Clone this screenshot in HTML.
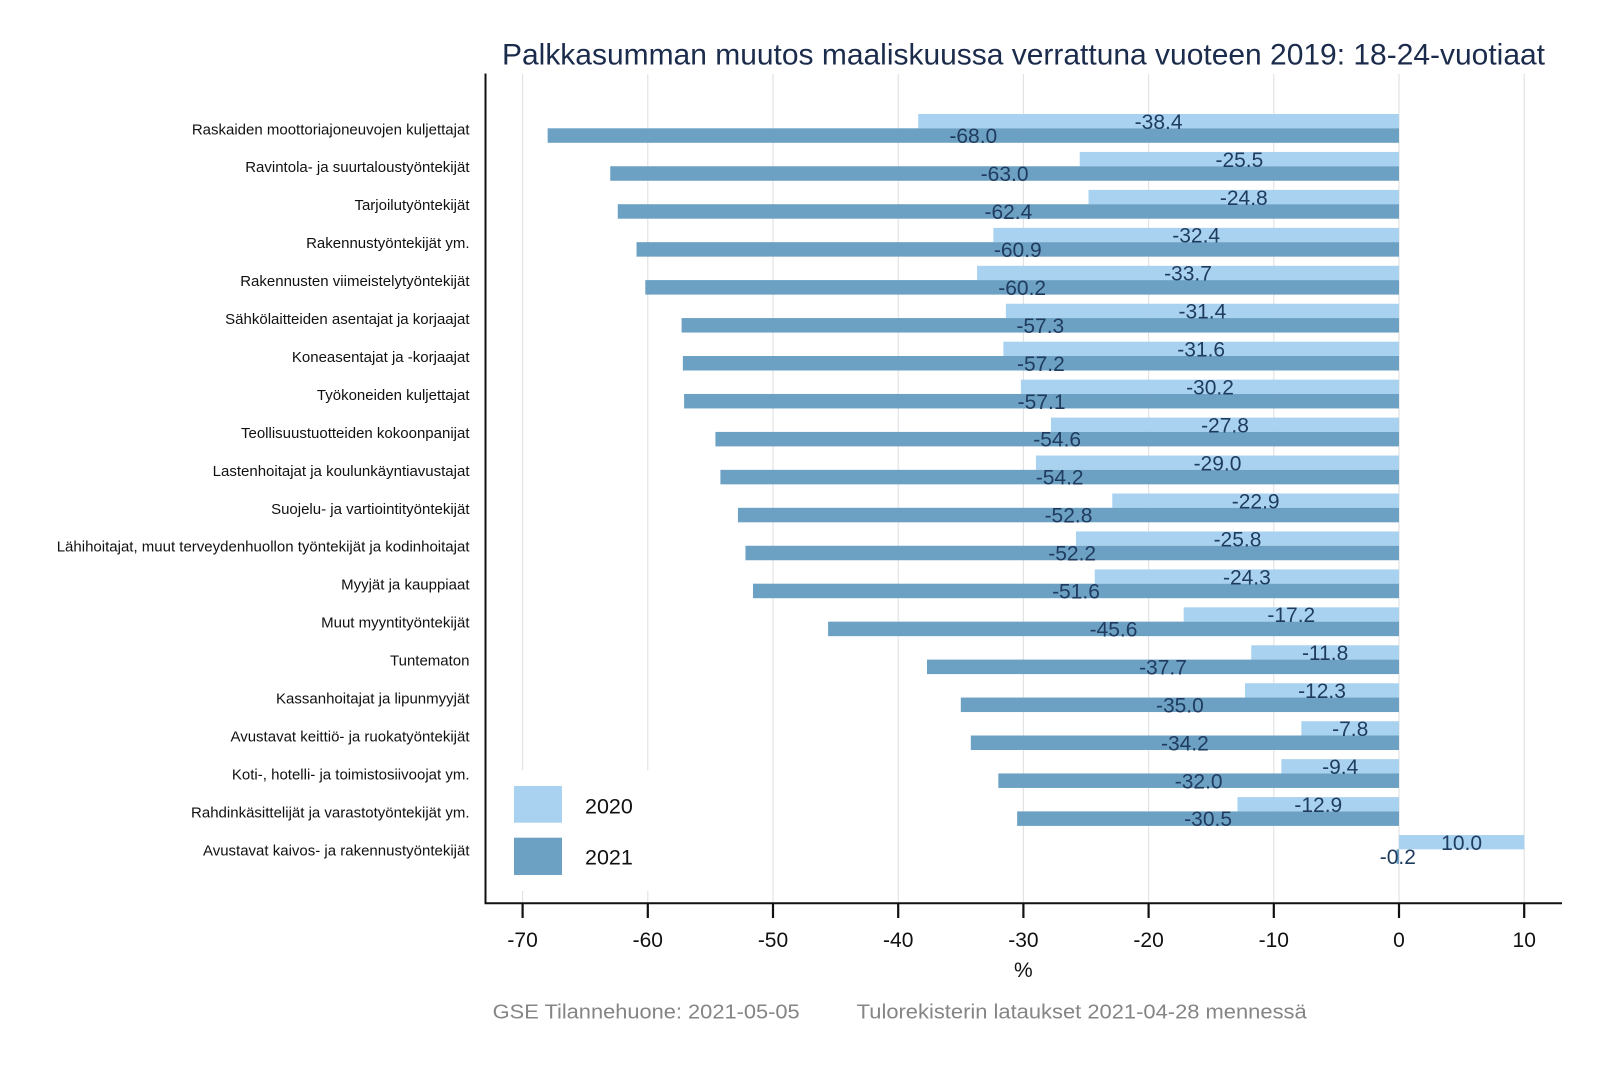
<!DOCTYPE html>
<html><head><meta charset="utf-8"><style>
html,body{margin:0;padding:0;background:#fff;}
svg{display:block;}
text{font-family:"Liberation Sans",Arial,sans-serif;}
.cat{font-size:15px;fill:#111;text-anchor:end;}
.val{font-size:21px;fill:#1f3b5e;text-anchor:middle;}
.tick{font-size:21px;fill:#111;text-anchor:middle;}
.l{fill:#a8d2f0;}
.d{fill:#6ca1c4;}
</style></head><body>
<svg width="1600" height="1067" viewBox="0 0 1600 1067" xmlns="http://www.w3.org/2000/svg">
<rect width="1600" height="1067" fill="#fff"/>
<text x="502" y="64.5" font-size="30" fill="#1b2b4b" textLength="1043" lengthAdjust="spacingAndGlyphs">Palkkasumman muutos maaliskuussa verrattuna vuoteen 2019: 18-24-vuotiaat</text>
<g stroke="#e3e3e3" stroke-width="1.2">
<line x1="522.6" y1="74" x2="522.6" y2="903"/>
<line x1="647.8" y1="74" x2="647.8" y2="903"/>
<line x1="773" y1="74" x2="773" y2="903"/>
<line x1="898.2" y1="74" x2="898.2" y2="903"/>
<line x1="1023.4" y1="74" x2="1023.4" y2="903"/>
<line x1="1148.6" y1="74" x2="1148.6" y2="903"/>
<line x1="1273.8" y1="74" x2="1273.8" y2="903"/>
<line x1="1399" y1="74" x2="1399" y2="903"/>
<line x1="1524.2" y1="74" x2="1524.2" y2="903"/>
</g>
<rect x="487" y="770" width="210" height="121" fill="#fff"/>
<rect x="514" y="786" width="48" height="36.7" class="l"/>
<rect x="514" y="837.7" width="48" height="37.3" class="d"/>
<text x="585" y="813.3" font-size="21.5" fill="#111">2020</text>
<text x="585" y="864.3" font-size="21.5" fill="#111">2021</text>

<g transform="translate(0,114)"><rect class="l" x="918.23" y="0" width="480.77" height="14.3"/><rect class="d" x="547.64" y="14.3" width="851.36" height="14.5"/><text class="cat" x="469.5" y="20.3">Raskaiden moottoriajoneuvojen kuljettajat</text><text class="val" x="1158.6" y="14.85">-38.4</text><text class="val" x="973.3" y="29.15">-68.0</text></g>
<g transform="translate(0,151.95)"><rect class="l" x="1079.74" y="0" width="319.26" height="14.3"/><rect class="d" x="610.24" y="14.3" width="788.76" height="14.5"/><text class="cat" x="469.5" y="20.3">Ravintola- ja suurtaloustyöntekijät</text><text class="val" x="1239.4" y="14.85">-25.5</text><text class="val" x="1004.6" y="29.15">-63.0</text></g>
<g transform="translate(0,189.9)"><rect class="l" x="1088.5" y="0" width="310.5" height="14.3"/><rect class="d" x="617.75" y="14.3" width="781.25" height="14.5"/><text class="cat" x="469.5" y="20.3">Tarjoilutyöntekijät</text><text class="val" x="1243.8" y="14.85">-24.8</text><text class="val" x="1008.4" y="29.15">-62.4</text></g>
<g transform="translate(0,227.85)"><rect class="l" x="993.35" y="0" width="405.65" height="14.3"/><rect class="d" x="636.53" y="14.3" width="762.47" height="14.5"/><text class="cat" x="469.5" y="20.3">Rakennustyöntekijät ym.</text><text class="val" x="1196.2" y="14.85">-32.4</text><text class="val" x="1017.8" y="29.15">-60.9</text></g>
<g transform="translate(0,265.8)"><rect class="l" x="977.08" y="0" width="421.92" height="14.3"/><rect class="d" x="645.3" y="14.3" width="753.7" height="14.5"/><text class="cat" x="469.5" y="20.3">Rakennusten viimeistelytyöntekijät</text><text class="val" x="1188.0" y="14.85">-33.7</text><text class="val" x="1022.2" y="29.15">-60.2</text></g>
<g transform="translate(0,303.75)"><rect class="l" x="1005.87" y="0" width="393.13" height="14.3"/><rect class="d" x="681.6" y="14.3" width="717.4" height="14.5"/><text class="cat" x="469.5" y="20.3">Sähkölaitteiden asentajat ja korjaajat</text><text class="val" x="1202.4" y="14.85">-31.4</text><text class="val" x="1040.3" y="29.15">-57.3</text></g>
<g transform="translate(0,341.7)"><rect class="l" x="1003.37" y="0" width="395.63" height="14.3"/><rect class="d" x="682.86" y="14.3" width="716.14" height="14.5"/><text class="cat" x="469.5" y="20.3">Koneasentajat ja -korjaajat</text><text class="val" x="1201.2" y="14.85">-31.6</text><text class="val" x="1040.9" y="29.15">-57.2</text></g>
<g transform="translate(0,379.65)"><rect class="l" x="1020.9" y="0" width="378.1" height="14.3"/><rect class="d" x="684.11" y="14.3" width="714.89" height="14.5"/><text class="cat" x="469.5" y="20.3">Työkoneiden kuljettajat</text><text class="val" x="1210.0" y="14.85">-30.2</text><text class="val" x="1041.6" y="29.15">-57.1</text></g>
<g transform="translate(0,417.6)"><rect class="l" x="1050.94" y="0" width="348.06" height="14.3"/><rect class="d" x="715.41" y="14.3" width="683.59" height="14.5"/><text class="cat" x="469.5" y="20.3">Teollisuustuotteiden kokoonpanijat</text><text class="val" x="1225.0" y="14.85">-27.8</text><text class="val" x="1057.2" y="29.15">-54.6</text></g>
<g transform="translate(0,455.55)"><rect class="l" x="1035.92" y="0" width="363.08" height="14.3"/><rect class="d" x="720.42" y="14.3" width="678.58" height="14.5"/><text class="cat" x="469.5" y="20.3">Lastenhoitajat ja koulunkäyntiavustajat</text><text class="val" x="1217.5" y="14.85">-29.0</text><text class="val" x="1059.7" y="29.15">-54.2</text></g>
<g transform="translate(0,493.5)"><rect class="l" x="1112.29" y="0" width="286.71" height="14.3"/><rect class="d" x="737.94" y="14.3" width="661.06" height="14.5"/><text class="cat" x="469.5" y="20.3">Suojelu- ja vartiointityöntekijät</text><text class="val" x="1255.7" y="14.85">-22.9</text><text class="val" x="1068.5" y="29.15">-52.8</text></g>
<g transform="translate(0,531.45)"><rect class="l" x="1075.98" y="0" width="323.02" height="14.3"/><rect class="d" x="745.46" y="14.3" width="653.54" height="14.5"/><text class="cat" x="469.5" y="20.3">Lähihoitajat, muut terveydenhuollon työntekijät ja kodinhoitajat</text><text class="val" x="1237.5" y="14.85">-25.8</text><text class="val" x="1072.2" y="29.15">-52.2</text></g>
<g transform="translate(0,569.4)"><rect class="l" x="1094.76" y="0" width="304.24" height="14.3"/><rect class="d" x="752.97" y="14.3" width="646.03" height="14.5"/><text class="cat" x="469.5" y="20.3">Myyjät ja kauppiaat</text><text class="val" x="1246.9" y="14.85">-24.3</text><text class="val" x="1076.0" y="29.15">-51.6</text></g>
<g transform="translate(0,607.35)"><rect class="l" x="1183.66" y="0" width="215.34" height="14.3"/><rect class="d" x="828.09" y="14.3" width="570.91" height="14.5"/><text class="cat" x="469.5" y="20.3">Muut myyntityöntekijät</text><text class="val" x="1291.3" y="14.85">-17.2</text><text class="val" x="1113.5" y="29.15">-45.6</text></g>
<g transform="translate(0,645.3)"><rect class="l" x="1251.26" y="0" width="147.74" height="14.3"/><rect class="d" x="927" y="14.3" width="472" height="14.5"/><text class="cat" x="469.5" y="20.3">Tuntematon</text><text class="val" x="1325.1" y="14.85">-11.8</text><text class="val" x="1163.0" y="29.15">-37.7</text></g>
<g transform="translate(0,683.25)"><rect class="l" x="1245" y="0" width="154" height="14.3"/><rect class="d" x="960.8" y="14.3" width="438.2" height="14.5"/><text class="cat" x="469.5" y="20.3">Kassanhoitajat ja lipunmyyjät</text><text class="val" x="1322.0" y="14.85">-12.3</text><text class="val" x="1179.9" y="29.15">-35.0</text></g>
<g transform="translate(0,721.2)"><rect class="l" x="1301.34" y="0" width="97.66" height="14.3"/><rect class="d" x="970.82" y="14.3" width="428.18" height="14.5"/><text class="cat" x="469.5" y="20.3">Avustavat keittiö- ja ruokatyöntekijät</text><text class="val" x="1350.2" y="14.85">-7.8</text><text class="val" x="1184.9" y="29.15">-34.2</text></g>
<g transform="translate(0,759.15)"><rect class="l" x="1281.31" y="0" width="117.69" height="14.3"/><rect class="d" x="998.36" y="14.3" width="400.64" height="14.5"/><text class="cat" x="469.5" y="20.3">Koti-, hotelli- ja toimistosiivoojat ym.</text><text class="val" x="1340.2" y="14.85">-9.4</text><text class="val" x="1198.7" y="29.15">-32.0</text></g>
<g transform="translate(0,797.1)"><rect class="l" x="1237.49" y="0" width="161.51" height="14.3"/><rect class="d" x="1017.14" y="14.3" width="381.86" height="14.5"/><text class="cat" x="469.5" y="20.3">Rahdinkäsittelijät ja varastotyöntekijät ym.</text><text class="val" x="1318.3" y="14.85">-12.9</text><text class="val" x="1208.1" y="29.15">-30.5</text></g>
<g transform="translate(0,835.05)"><rect class="l" x="1399" y="0" width="125.2" height="14.3"/><rect class="d" x="1396.5" y="14.3" width="2.5" height="14.5"/><text class="cat" x="469.5" y="20.3">Avustavat kaivos- ja rakennustyöntekijät</text><text class="val" x="1461.6" y="14.85">10.0</text><text class="val" x="1397.8" y="29.15">-0.2</text></g>

<line x1="485.5" y1="73.5" x2="485.5" y2="904" stroke="#111" stroke-width="2"/>
<line x1="484.5" y1="903.3" x2="1562" y2="903.3" stroke="#111" stroke-width="2"/>
<g stroke="#111" stroke-width="2.2">
<line x1="522.6" y1="903" x2="522.6" y2="918"/>
<line x1="647.8" y1="903" x2="647.8" y2="918"/>
<line x1="773" y1="903" x2="773" y2="918"/>
<line x1="898.2" y1="903" x2="898.2" y2="918"/>
<line x1="1023.4" y1="903" x2="1023.4" y2="918"/>
<line x1="1148.6" y1="903" x2="1148.6" y2="918"/>
<line x1="1273.8" y1="903" x2="1273.8" y2="918"/>
<line x1="1399" y1="903" x2="1399" y2="918"/>
<line x1="1524.2" y1="903" x2="1524.2" y2="918"/>
</g>
<text class="tick" x="522.6" y="947">-70</text>
<text class="tick" x="647.8" y="947">-60</text>
<text class="tick" x="773" y="947">-50</text>
<text class="tick" x="898.2" y="947">-40</text>
<text class="tick" x="1023.4" y="947">-30</text>
<text class="tick" x="1148.6" y="947">-20</text>
<text class="tick" x="1273.8" y="947">-10</text>
<text class="tick" x="1399" y="947">0</text>
<text class="tick" x="1524.2" y="947">10</text>
<text class="tick" x="1023.4" y="977">%</text>
<text x="492.7" y="1018.3" font-size="20.5" fill="#858585" textLength="307" lengthAdjust="spacingAndGlyphs">GSE Tilannehuone: 2021-05-05</text>
<text x="856.7" y="1018.3" font-size="20.5" fill="#858585" textLength="450" lengthAdjust="spacingAndGlyphs">Tulorekisterin lataukset 2021-04-28 mennessä</text>
</svg>
</body></html>
